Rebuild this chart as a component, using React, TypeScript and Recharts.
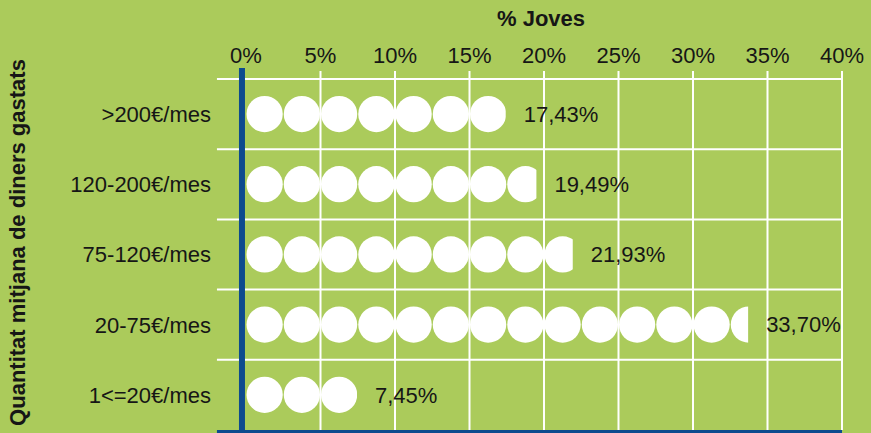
import React from 'react';
import { BarChart, Bar, XAxis, YAxis, ReferenceLine, LabelList } from 'recharts';

const categories = ['>200€/mes', '120-200€/mes', '75-120€/mes', '20-75€/mes', '1<=20€/mes'];
const values = [17.43, 19.49, 21.93, 33.7, 7.45];
const xTicks = [0, 5, 10, 15, 20, 25, 30, 35, 40];
const gridX = [5, 10, 15, 20, 25, 30, 35, 40];
const unitPerCircle = 2.5;
const xTitle = '% Joves';
const yTitle = 'Quantitat mitjana de diners gastats';

const data = categories.map((c, i) => ({ cat: c, v: values[i] }));

const GREEN = '#abcb5b';
const BLUE = '#0d4b8e';
const TEXT = '#161616';
const FONT = '"Liberation Sans", Arial, Helvetica, sans-serif';

const fmtPct = (v: number) => v.toFixed(2).replace('.', ',') + '%';

const PictoBar = (props: any) => {
  const { x, y, width, height, payload, index } = props;
  const v = payload.v;
  if (!width || width <= 0 || !v) return null;
  const pitch = (unitPerCircle * width) / v;
  const r = pitch / 2 - 0.5;
  const cy = y + height / 2;
  const n = Math.ceil(width / pitch);
  const id = `clip-bar-${index}`;
  const circles = [];
  for (let i = 0; i < n; i++) {
    circles.push(<circle key={i} cx={x + pitch * i + pitch / 2} cy={cy} r={r} fill="#ffffff" />);
  }
  return (
    <g>
      <defs>
        <clipPath id={id}>
          <rect x={x} y={cy - pitch} width={width} height={pitch * 2} />
        </clipPath>
      </defs>
      <g clipPath={`url(#${id})`}>{circles}</g>
    </g>
  );
};

// line shape that can extend beyond the plot edges by a few pixels (style only)
const extLine = (extTop: number, extBottom: number, shiftY = 0) => (p: any) => {
  const top = Math.min(p.y1, p.y2);
  const bottom = Math.max(p.y1, p.y2);
  const vertical = Math.abs(p.x1 - p.x2) < 0.01;
  if (vertical) {
    return <line x1={p.x1} x2={p.x2} y1={top - extTop} y2={bottom + extBottom} stroke={p.stroke} strokeWidth={p.strokeWidth} />;
  }
  return <line x1={p.x1} x2={p.x2} y1={p.y1 + shiftY} y2={p.y2 + shiftY} stroke={p.stroke} strokeWidth={p.strokeWidth} />;
};

const renderYTitle = (props: any) => {
  const vb = props.viewBox;
  const cx = vb.x + 25;
  const cy = vb.y + vb.height / 2 - 12;
  return (
    <text
      x={cx}
      y={cy}
      transform={`rotate(-90 ${cx} ${cy})`}
      textAnchor="middle"
      fontFamily={FONT}
      fontSize={22}
      fontWeight="bold"
      fill={TEXT}
    >
      {yTitle}
    </text>
  );
};

const renderXTitle = (props: any) => {
  const vb = props.viewBox;
  return (
    <text
      x={vb.x + vb.width / 2 - 3}
      y={vb.y + 26}
      textAnchor="middle"
      fontFamily={FONT}
      fontSize={22}
      fontWeight="bold"
      fill={TEXT}
    >
      {xTitle}
    </text>
  );
};

export default function App() {
  return (
    <div style={{ position: 'absolute', left: 0, top: 0, width: 871, height: 433, background: GREEN }}>
      <BarChart
        layout="vertical"
        width={871}
        height={433}
        data={data}
        margin={{ top: 0, right: 29, bottom: 3, left: 0 }}
        style={{ background: GREEN }}
      >
        <XAxis
          type="number"
          orientation="top"
          domain={[0, 40]}
          ticks={xTicks}
          height={79}
          axisLine={false}
          tickLine={false}
          tickSize={0}
          tickMargin={16}
          tickFormatter={(v: number) => `${v}%`}
          tick={{ fill: TEXT, fontSize: 22, fontFamily: FONT }}
          label={renderXTitle}
          allowDataOverflow
        />
        <YAxis
          type="category"
          dataKey="cat"
          width={246}
          axisLine={false}
          tickLine={false}
          tickSize={0}
          tickMargin={35}
          tick={{ fill: TEXT, fontSize: 22, fontFamily: FONT }}
          label={renderYTitle}
        />
        {gridX.map((gx) => (
          <ReferenceLine
            key={`gx-${gx}`}
            x={gx}
            stroke="#ffffff"
            strokeWidth={2}
            ifOverflow="visible"
            shape={extLine(8, 0)}
          />
        ))}
        {categories.map((c) => (
          <ReferenceLine
            key={`ry-${c}`}
            segment={[{ x: -1.95, y: c }, { x: 40, y: c }]}
            position="start"
            stroke="#ffffff"
            strokeWidth={2}
            ifOverflow="visible"
          />
        ))}
        <ReferenceLine
          segment={[{ x: -1.95, y: categories[categories.length - 1] }, { x: 40, y: categories[categories.length - 1] }]}
          position="end"
          stroke={BLUE}
          strokeWidth={4}
          ifOverflow="visible"
          shape={extLine(0, 0, 2)}
        />
        <ReferenceLine
          x={-0.27}
          stroke={BLUE}
          strokeWidth={6}
          ifOverflow="visible"
          shape={extLine(11, 3)}
        />
        <Bar dataKey="v" barSize={36} shape={<PictoBar />} isAnimationActive={false}>
          <LabelList
            dataKey="v"
            position="right"
            offset={18}
            formatter={(v: any) => fmtPct(Number(v))}
            style={{ fill: TEXT, fontSize: 22, fontFamily: FONT }}
          />
        </Bar>
      </BarChart>
    </div>
  );
}
